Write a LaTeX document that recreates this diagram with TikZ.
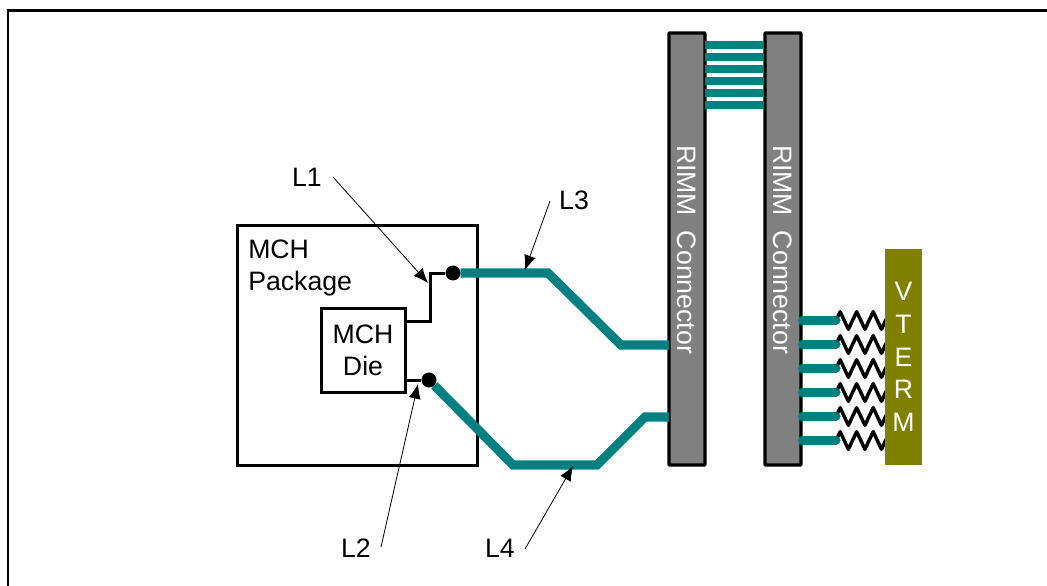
\documentclass[tikz,border=0pt]{standalone}
\usepackage{fontspec}
\setmainfont{Liberation Sans}
\usepackage{tikz}
\usetikzlibrary{arrows.meta, decorations.pathmorphing}
\definecolor{busteal}{HTML}{008080}
\definecolor{vtermolive}{HTML}{808000}
\definecolor{rimmgray}{HTML}{808080}

\begin{document}
\begin{tikzpicture}[x=0.75pt, y=-0.75pt, >={Latex[length=11pt, width=9pt]}]
    \tikzstyle{box} = [draw, line width=2.25pt, rectangle, inner sep=0pt, font=\fontsize{20}{24}\selectfont, align=left]
    \tikzstyle{rimm} = [draw, line width=2.4pt, rectangle, fill=rimmgray, minimum width=27pt, minimum height=324pt, rounded corners=0.5pt]
    \tikzstyle{rimmtext} = [white, rotate=-90, font=\fontsize{20}{24}\selectfont]
    \tikzstyle{label} = [font=\fontsize{20}{24}\selectfont, inner sep=0pt]
    \tikzstyle{dot} = [circle, fill=black, inner sep=0pt, minimum size=11pt]
    \tikzstyle{bus} = [busteal, line width=6.8pt]
    \tikzstyle{rung} = [busteal, line width=6.3pt]
    \tikzstyle{stub} = [busteal, line width=6.8pt, line cap=round]
    \tikzstyle{wire} = [line width=2.25pt]
    \tikzstyle{pointer} = [->, line width=0.6pt]
    \tikzstyle{resistor} = [line width=2.6pt, line join=round, decorate, decoration={zigzag, segment length=12.4pt, amplitude=6.6pt}]

    \useasboundingbox (0, 0) rectangle (1047, 586);

    % Cornice
    \coordinate (fa) at (8, 586);
    \coordinate (fb) at (8, 10.5);
    \coordinate (fc) at (1047, 10.5);
    \draw[line width=1.8pt] (fa) -- (fb) -- (fc);

    % Package e die
    \node[box, minimum width=180pt, minimum height=180pt] (pkg) at (357, 345) {};
    \node[label, anchor=north west, align=left] (pkgtext) at (248, 240) {MCH\\Package};
    \node[box, fill=white, minimum width=63pt, minimum height=63pt, align=center] (die) at (363, 350.5) {MCH\\Die};
    \node[dot] (d1) at (453, 273) {};
    \node[dot] (d2) at (429, 380) {};

    % Connettori e terminazione
    \node[rimm] (rimma) at (687, 249) {};
    \node[rimm] (rimmb) at (783, 249) {};
    \node[rimmtext] (ta) at (687, 249.5) {RIMM\ \ Connector};
    \node[rimmtext] (tb) at (783, 249.5) {RIMM\ \ Connector};

    % Piste
    \coordinate (l3a) at (548, 273);
    \coordinate (l3b) at (621, 345);
    \coordinate (l4a) at (513, 465);
    \coordinate (l4b) at (597, 465);
    \coordinate (l4c) at (645, 417);
    \coordinate (l4d) at (669, 417);
    \coordinate (l3d) at (669, 345);
    \draw[bus] (d1) -- (l3a) -- (l3b) -- (l3d);
    \draw[bus] (d2) -- (l4a) -- (l4b) -- (l4c) -- (l4d);
    \node[dot] at (d1) {};
    \node[dot] at (d2) {};

    % Fili del die
    \coordinate (w1) at (405, 321);
    \coordinate (w2) at (430, 321);
    \coordinate (w3) at (430, 273);
    \coordinate (w4) at (405, 380);
    \draw[wire] (w1) -- (w2) -- (w3) -- (d1);
    \draw[wire] (w4) -- (d2);

    % Bus tra i connettori
    \coordinate (b1) at (705, 45);
    \coordinate (b2) at (705, 57);
    \coordinate (b3) at (705, 69);
    \coordinate (b4) at (705, 81);
    \coordinate (b5) at (705, 93);
    \coordinate (b6) at (705, 105);
    \draw[rung] (b1) -- (rimmb.west |- b1);
    \draw[rung] (b2) -- (rimmb.west |- b2);
    \draw[rung] (b3) -- (rimmb.west |- b3);
    \draw[rung] (b4) -- (rimmb.west |- b4);
    \draw[rung] (b5) -- (rimmb.west |- b5);
    \draw[rung] (b6) -- (rimmb.west |- b6);

    % Resistenze verso VTERM
    \coordinate (s1) at (836, 320.5);
    \coordinate (s2) at (836, 344.5);
    \coordinate (s3) at (836, 368.5);
    \coordinate (s4) at (836, 392.5);
    \coordinate (s5) at (836, 416.5);
    \coordinate (s6) at (836, 440.5);
    \coordinate (v1) at (895, 320.5);
    \coordinate (v2) at (895, 344.5);
    \coordinate (v3) at (895, 368.5);
    \coordinate (v4) at (895, 392.5);
    \coordinate (v5) at (895, 416.5);
    \coordinate (v6) at (895, 440.5);
    \draw[resistor] (s1) -- (v1);
    \draw[resistor] (s2) -- (v2);
    \draw[resistor] (s3) -- (v3);
    \draw[resistor] (s4) -- (v4);
    \draw[resistor] (s5) -- (v5);
    \draw[resistor] (s6) -- (v6);
    \draw[stub] (rimmb.east |- s1) -- (s1);
    \draw[stub] (rimmb.east |- s2) -- (s2);
    \draw[stub] (rimmb.east |- s3) -- (s3);
    \draw[stub] (rimmb.east |- s4) -- (s4);
    \draw[stub] (rimmb.east |- s5) -- (s5);
    \draw[stub] (rimmb.east |- s6) -- (s6);
    \node[fill=vtermolive, text=white, minimum width=27.75pt, minimum height=162pt, inner sep=0pt, align=center, font=\fontsize{20}{24.5}\selectfont] (vterm) at (903.5, 357) {V\\T\\E\\R\\M};

    % Etichette e frecce
    \node[label] (l1) at (307, 177) {L1};
    \node[label] (l2) at (356, 548) {L2};
    \node[label] (l3) at (574, 200) {L3};
    \node[label] (l4) at (500, 548) {L4};
    \coordinate (p1) at (333, 177);
    \coordinate (q1) at (428, 283);
    \coordinate (p2) at (381, 547);
    \coordinate (q2) at (418, 384);
    \coordinate (p3) at (550, 201);
    \coordinate (q3) at (525, 270);
    \coordinate (p4) at (525, 549);
    \coordinate (q4) at (573, 466);
    \draw[pointer] (p1) -- (q1);
    \draw[pointer] (p2) -- (q2);
    \draw[pointer] (p3) -- (q3);
    \draw[pointer] (p4) -- (q4);
\end{tikzpicture}
\end{document}
